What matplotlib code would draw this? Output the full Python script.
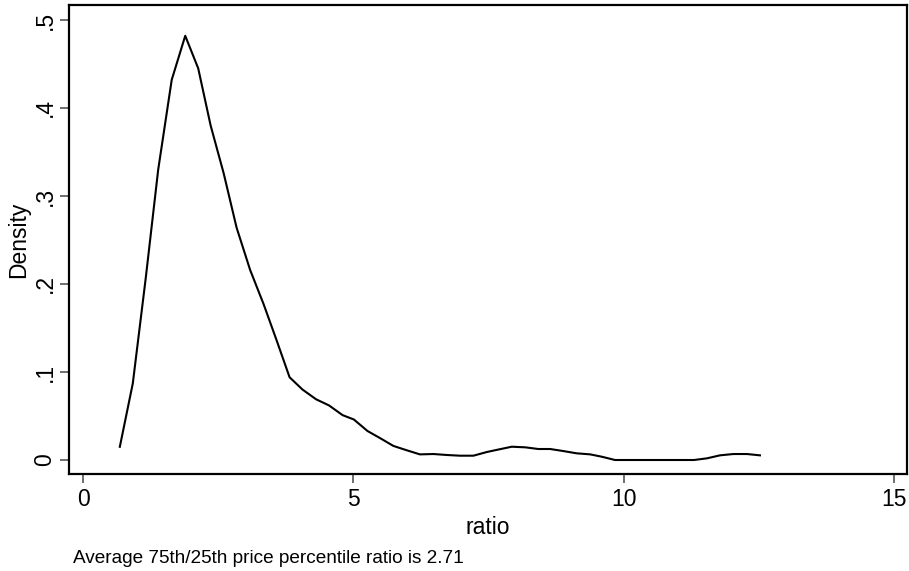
import matplotlib
matplotlib.use("Agg")
import matplotlib.pyplot as plt

plt.rcParams['font.family'] = ['Liberation Sans', 'DejaVu Sans']

ratio = [0.68, 0.92, 1.16, 1.39, 1.64, 1.89, 2.13, 2.36, 2.60, 2.84,
         3.09, 3.34, 3.58, 3.82, 4.06, 4.31, 4.55, 4.80, 5.01, 5.26,
         5.49, 5.74, 5.99, 6.23, 6.48, 6.73, 6.97, 7.22, 7.47, 7.69,
         7.93, 8.18, 8.42, 8.64, 8.88, 9.13, 9.38, 9.59, 9.84, 10.08,
         10.32, 10.58, 10.82, 11.06, 11.30, 11.54, 11.78, 12.03, 12.28, 12.52]
density = [0.015, 0.087, 0.207, 0.330, 0.432, 0.482, 0.445, 0.380, 0.326, 0.264,
           0.216, 0.177, 0.136, 0.094, 0.080, 0.069, 0.062, 0.051, 0.046, 0.033,
           0.025, 0.016, 0.011, 0.0064, 0.0068, 0.0057, 0.0049, 0.0049, 0.0091, 0.012,
           0.0151, 0.0144, 0.0125, 0.0125, 0.0102, 0.0076, 0.0064, 0.0038, 0.0, 0.0,
           0.0, 0.0, 0.0, 0.0, 0.0, 0.0019, 0.0053, 0.0068, 0.0068, 0.0053]

xticks = [0, 5, 10, 15]
xticklabels = ['0', '5', '10', '15']
yticks = [0, 0.1, 0.2, 0.3, 0.4, 0.5]
yticklabels = ['0', '.1', '.2', '.3', '.4', '.5']
caption = "Average 75th/25th price percentile ratio is 2.71"

fig = plt.figure(figsize=(9.09, 5.71), dpi=100)
ax = fig.add_axes([69/909, 1 - 474/571, (907 - 69)/909, (474 - 5)/571])
ax.plot(ratio, density, color='black', linewidth=1.5)

ax.set_xlim(-0.26, 15.24)
ax.set_ylim(-0.0159, 0.517)
ax.set_xticks(xticks)
ax.set_xticklabels(xticklabels)
ax.set_yticks(yticks)
ax.set_yticklabels(yticklabels, rotation=90, va='center')
ax.tick_params(axis='both', length=6.5, width=1.2, color='#555555', labelsize=16.5)
ax.tick_params(axis='x', pad=3.5)
ax.tick_params(axis='y', pad=2.5)

for s in ax.spines.values():
    s.set_linewidth(1.6)
    s.set_color('black')

ax.set_xlabel('ratio', fontsize=16.5, va='baseline')
ax.xaxis.set_label_coords(0.5, (474 - 534) / 469)
ax.set_ylabel('Density', fontsize=16.5)
ax.yaxis.set_label_coords((30 - 69) / 838, 0.5)

fig.text(73/909, 1 - 563/571, caption, fontsize=13.7, ha='left', va='baseline')

fig.savefig('out.png', dpi=100)
